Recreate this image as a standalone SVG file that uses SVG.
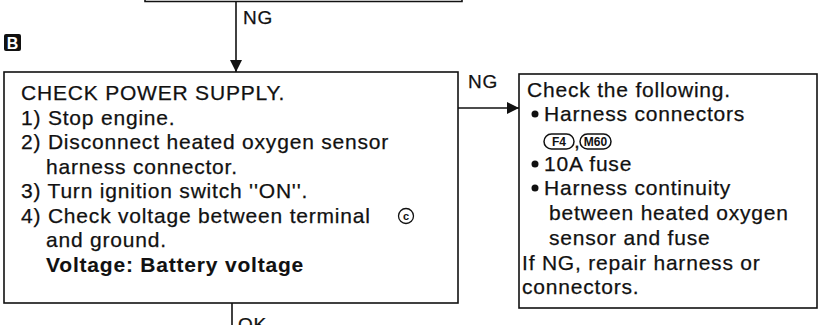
<svg xmlns="http://www.w3.org/2000/svg" width="824" height="325" viewBox="0 0 824 325">
<defs>
<style>
.t{font-family:"Liberation Sans",Arial,Helvetica,sans-serif;font-size:21px;letter-spacing:0.8px;fill:#111;stroke:#111;stroke-width:0.25}
.b{font-weight:bold;stroke-width:0.1}
.box{fill:#fff;stroke:#111;stroke-width:1.6}
.ln{fill:none;stroke:#111;stroke-width:1.6}
.pill{fill:#fff;stroke:#111;stroke-width:1.5}
.pt{font-family:"Liberation Sans",Arial,sans-serif;font-size:12px;font-weight:bold;fill:#111}
</style>
<marker id="ah" viewBox="0 0 10 10" refX="10" refY="5" markerWidth="12" markerHeight="12" markerUnits="userSpaceOnUse" orient="auto">
<path d="M0,0 L10,5 L0,10 z" fill="#111"/>
</marker>
</defs>
<rect width="824" height="325" fill="#fff"/>
<g id="prev-box">
<polyline class="ln" points="145,-5 145,1.5 462,1.5 462,-5"/>
</g>
<g id="label-b">
<rect x="4" y="34" width="17" height="17" rx="2" fill="#111"/>
<text x="12.5" y="48.5" text-anchor="middle" style="font-family:'Liberation Sans',Arial,sans-serif;font-size:16px;font-weight:bold;fill:#fff">B</text>
</g>
<g id="check-power">
<rect class="box" x="4" y="72" width="454" height="231"/>
<text class="t" x="21" y="100">CHECK POWER SUPPLY.</text>
<text class="t" x="21" y="125">1) Stop engine.</text>
<text class="t" x="21" y="149">2) Disconnect heated oxygen sensor</text>
<text class="t" x="46" y="174">harness connector.</text>
<text class="t" x="21" y="198">3) Turn ignition switch ''ON''.</text>
<text class="t" x="21" y="223">4) Check voltage between terminal</text>
<circle cx="406" cy="216" r="7.5" fill="none" stroke="#111" stroke-width="1.3"/>
<text x="406" y="220" text-anchor="middle" style="font-family:'Liberation Sans',Arial,sans-serif;font-size:11px;font-weight:bold;fill:#111">c</text>
<text class="t" x="46" y="247">and ground.</text>
<text class="t b" x="46" y="272">Voltage: Battery voltage</text>
</g>
<g id="check-following">
<rect class="box" x="519" y="74" width="298" height="234"/>
<text class="t" x="527" y="97">Check the following.</text>
<circle cx="535" cy="114" r="3.5" fill="#111"/>
<text class="t" x="544" y="121">Harness connectors</text>
<rect class="pill" x="544" y="134" width="30" height="15" rx="7.5"/>
<text class="pt" x="559" y="146" text-anchor="middle">F4</text>
<text class="t" x="574" y="148">,</text>
<rect class="pill" x="580" y="134" width="31" height="15" rx="7.5" stroke-width="2"/>
<text class="pt" x="595.5" y="146" text-anchor="middle">M60</text>
<circle cx="535" cy="164" r="3.5" fill="#111"/>
<text class="t" x="544" y="171">10A fuse</text>
<circle cx="535" cy="188" r="3.5" fill="#111"/>
<text class="t" x="544" y="195">Harness continuity</text>
<text class="t" x="549" y="220">between heated oxygen</text>
<text class="t" x="549" y="245">sensor and fuse</text>
<text class="t" x="522" y="270">If NG, repair harness or</text>
<text class="t" x="522" y="294">connectors.</text>
</g>
<g id="connectors">
<line class="ln" x1="236" y1="1" x2="236" y2="72" marker-end="url(#ah)"/>
<text class="t" x="243" y="24" style="font-size:19px">NG</text>
<line class="ln" x1="458" y1="108" x2="519" y2="108" marker-end="url(#ah)"/>
<text class="t" x="468" y="88" style="font-size:19px">NG</text>
<line class="ln" x1="232" y1="303" x2="232" y2="330"/>
<text class="t" x="238" y="331" style="font-size:19px">OK</text>
</g>
</svg>
